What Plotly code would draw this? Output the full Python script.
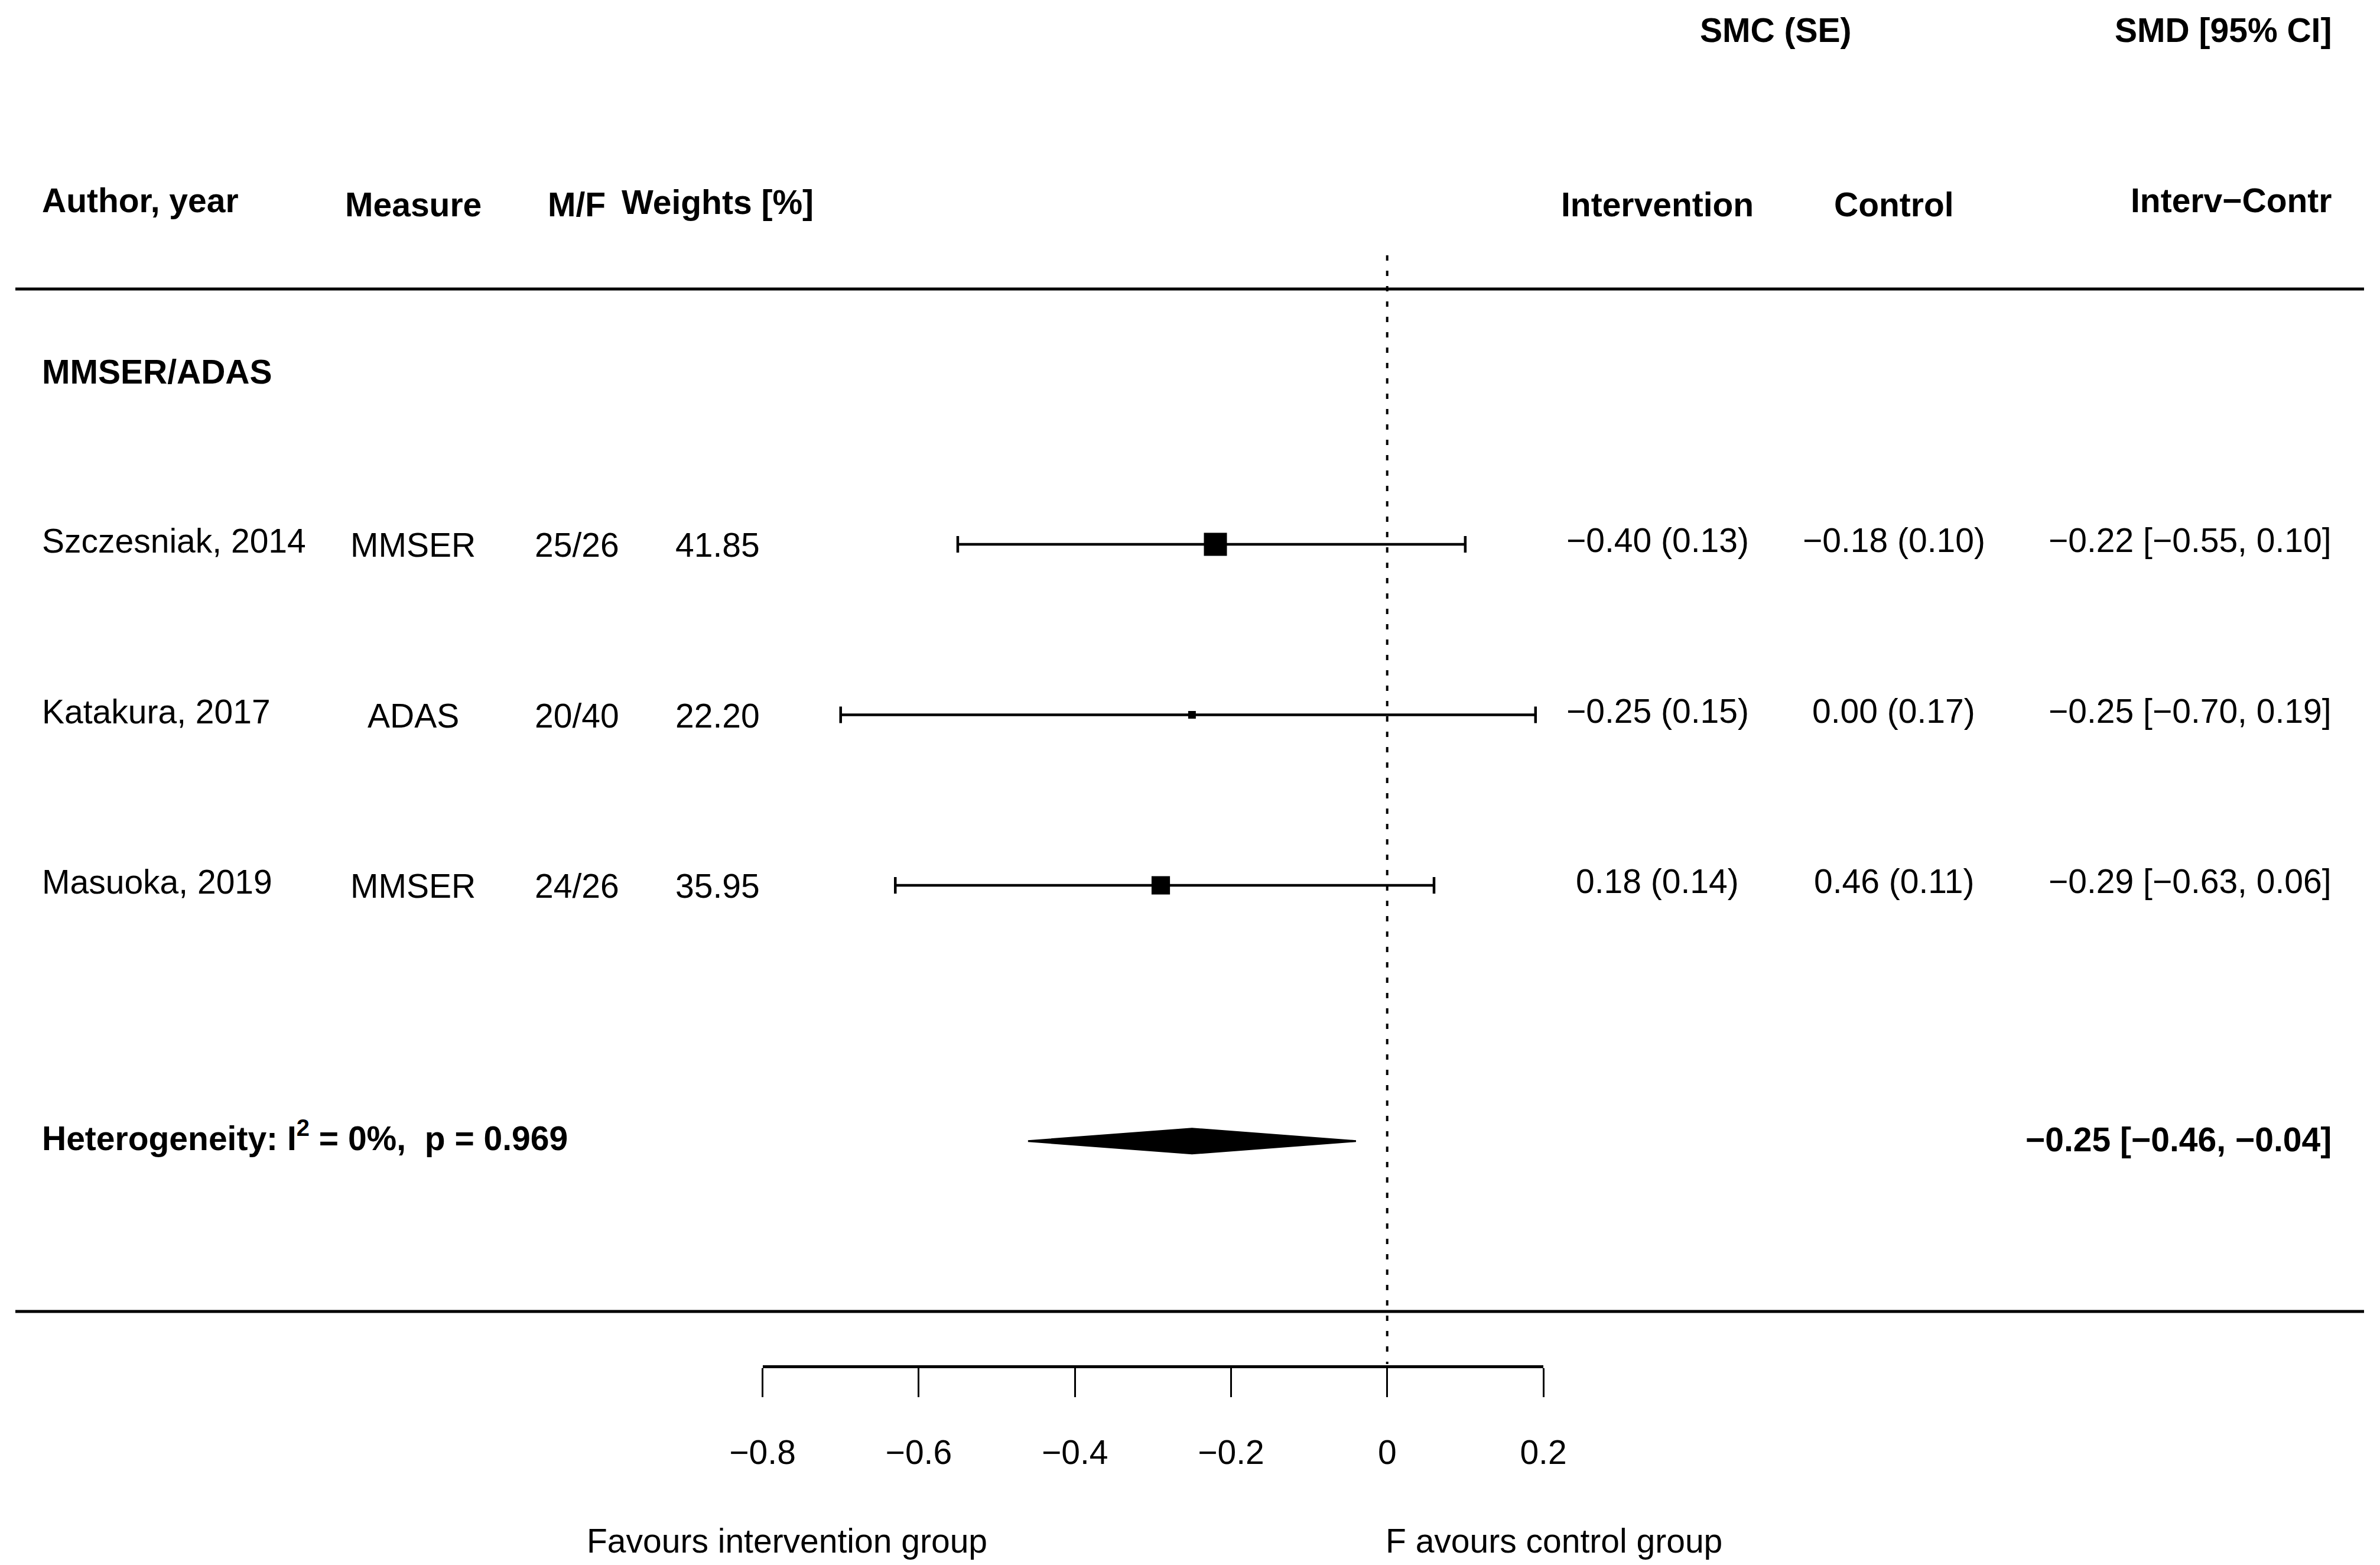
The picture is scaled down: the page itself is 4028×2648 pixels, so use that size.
import plotly.graph_objects as go

# ---------------- data ----------------
authors = ["Szczesniak, 2014", "Katakura, 2017", "Masuoka, 2019"]
measures = ["MMSER", "ADAS", "MMSER"]
mf_ratio = ["25/26", "20/40", "24/26"]
weights = [41.85, 22.20, 35.95]
int_smc = [-0.40, -0.25, 0.18]
int_se = [0.13, 0.15, 0.14]
ctl_smc = [-0.18, 0.00, 0.46]
ctl_se = [0.10, 0.17, 0.11]
smd = [-0.22, -0.25, -0.29]
smd_lo = [-0.55, -0.70, -0.63]
smd_hi = [0.10, 0.19, 0.06]
pooled_est = -0.25
pooled_lo = -0.46
pooled_hi = -0.04
i2_pct = 0
het_p = 0.969
group_label = "MMSER/ADAS"
tick_vals = [-0.8, -0.6, -0.4, -0.2, 0, 0.2]
tick_text = ["\u22120.8", "\u22120.6", "\u22120.4", "\u22120.2", "0", "0.2"]

# ---------------- layout constants ----------------
W, H = 4028, 2648
FONT = "Liberation Sans"
FS = 57
ROW0_PX = 921.0       # pixel y of first study row
ROW_PX = 288.5        # pixels per row
AX_L_PX, AX_R_PX = 1290.6, 2612.0   # pixel extent of the effect axis


def rows_from_px(p):
    return (p - ROW0_PX) / ROW_PX


def px_off(p):
    return p / ROW_PX


def fmt(v):
    s = f"{v:.2f}"
    return s.replace("-", "\u2212")


y_rng = [rows_from_px(H), rows_from_px(0)]

study_rows = list(range(len(authors)))
summary_row = len(authors) + 0.5

# marker sizes scaled from weights
min_sz, max_sz = 13, 39
wmin, wmax = min(weights), max(weights)
sizes = [min_sz + (w - wmin) / (wmax - wmin) * (max_sz - min_sz) for w in weights]

fig = go.Figure()

# study estimates with CIs
fig.add_trace(go.Scatter(
    x=smd, y=study_rows, mode="markers",
    marker=dict(symbol="square", size=sizes, color="#000000", opacity=1,
                line=dict(width=0, color="#000000")),
    error_x=dict(type="data", symmetric=False,
                 array=[h - e for h, e in zip(smd_hi, smd)],
                 arrayminus=[e - l for e, l in zip(smd, smd_lo)],
                 color="#000000", thickness=4.5, width=14),
    cliponaxis=False, showlegend=False, hoverinfo="skip",
))

# pooled diamond
dh = px_off(21)
fig.add_trace(go.Scatter(
    x=[pooled_lo, pooled_est, pooled_hi, pooled_est, pooled_lo],
    y=[summary_row, summary_row - dh, summary_row, summary_row + dh, summary_row],
    mode="lines", fill="toself", fillcolor="#000000",
    line=dict(color="#000000", width=3),
    cliponaxis=False, showlegend=False, hoverinfo="skip",
))

shapes = []
# dashed zero line
shapes.append(dict(type="line", xref="x", yref="y", x0=0, x1=0,
                   y0=rows_from_px(432), y1=rows_from_px(2308),
                   line=dict(color="black", width=4, dash="9px,17px")))
# horizontal rules
for yp in (489, 2219):
    shapes.append(dict(type="line", xref="paper", yref="y",
                       x0=26 / W, x1=4001 / W, y0=rows_from_px(yp), y1=rows_from_px(yp),
                       line=dict(color="black", width=5)))

ann = []


def add_text(text, xp, yrow, anchor="center", bold=False):
    if bold:
        text = f"<b>{text}</b>"
    ann.append(dict(text=text, x=xp / W, xref="paper", y=yrow, yref="y",
                    xanchor=anchor, yanchor="middle", showarrow=False,
                    font=dict(family=FONT, size=FS, color="black")))


# top headers
add_text("SMC (SE)", 3005, rows_from_px(51), "center", True)
add_text("SMD [95% CI]", 3948, rows_from_px(51), "right", True)
add_text("Author, year", 69, rows_from_px(339), "left", True)
add_text("Measure", 699, rows_from_px(346), "center", True)
add_text("M/F", 976, rows_from_px(346), "center", True)
add_text("Weights [%]", 1214, rows_from_px(342), "center", True)
add_text("Intervention", 2805, rows_from_px(346), "center", True)
add_text("Control", 3205, rows_from_px(346), "center", True)
add_text("Interv\u2212Contr", 3948, rows_from_px(339), "right", True)
add_text(group_label, 69, rows_from_px(629), "left", True)

for i, r in enumerate(study_rows):
    add_text(authors[i], 69, r - px_off(6), "left")
    add_text(measures[i], 699, r + px_off(1), "center")
    add_text(mf_ratio[i], 976, r + px_off(1), "center")
    add_text(f"{weights[i]:.2f}", 1214, r + px_off(1), "center")
    add_text(f"{fmt(int_smc[i])} ({int_se[i]:.2f})", 2805, r - px_off(7), "center")
    add_text(f"{fmt(ctl_smc[i])} ({ctl_se[i]:.2f})", 3205, r - px_off(7), "center")
    add_text(f"{fmt(smd[i])} [{fmt(smd_lo[i])}, {fmt(smd_hi[i])}]", 3948, r - px_off(7), "right")

add_text(f"Heterogeneity: I<sup>2</sup> = {i2_pct}%,\u00a0\u00a0p = {het_p:.3f}", 69,
         rows_from_px(1922), "left", True)
add_text(f"{fmt(pooled_est)} [{fmt(pooled_lo)}, {fmt(pooled_hi)}]", 3948,
         rows_from_px(1928), "right", True)

add_text("Favours intervention group", 1332, rows_from_px(2607), "center")
add_text("F avours control group", 2343, rows_from_px(2607), "left")

ax_y_paper = 1 - 2312 / H
fig.update_layout(
    width=W, height=H,
    margin=dict(l=0, r=0, t=0, b=0, pad=0, autoexpand=False),
    paper_bgcolor="white", plot_bgcolor="rgba(0,0,0,0)",
    showlegend=False,
    font=dict(family=FONT, size=FS, color="black"),
    xaxis=dict(domain=[AX_L_PX / W, AX_R_PX / W], range=[-0.8, 0.2],
               anchor="free", position=ax_y_paper, side="bottom",
               showline=True, linecolor="black", linewidth=5,
               ticks="outside", ticklen=49, tickwidth=3, tickcolor="black",
               tickvals=tick_vals, ticktext=tick_text,
               tickfont=dict(family=FONT, size=FS, color="black"),
               ticklabelstandoff=45, automargin=False,
               showgrid=False, zeroline=False, fixedrange=True),
    yaxis=dict(range=y_rng, domain=[0, 1], visible=False, fixedrange=True),
    shapes=shapes, annotations=ann,
)

fig.write_html("out.html", config={"displayModeBar": False},
               post_script="document.body.style.margin='0';document.body.style.overflow='hidden';")
